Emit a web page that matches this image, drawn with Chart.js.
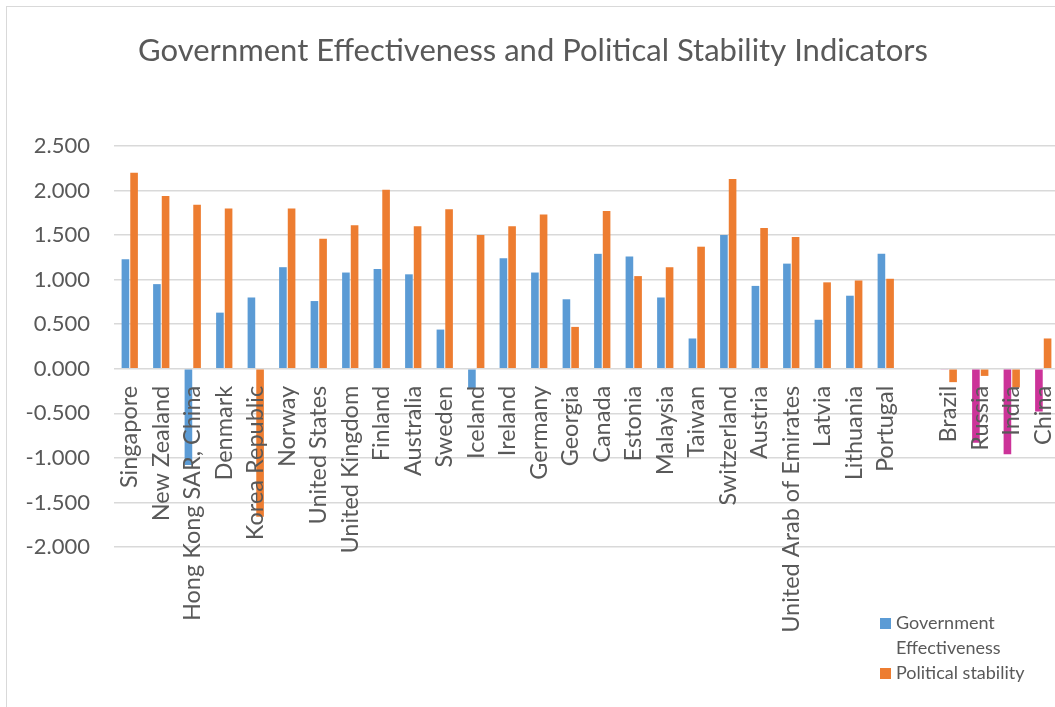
<!DOCTYPE html>
<html>
<head>
<meta charset="utf-8">
<script src="https://cdn.jsdelivr.net/npm/chart.js@4.4.1/dist/chart.umd.min.js"></script>
<style>
  html, body { margin: 0; padding: 0; background: #fff; overflow: hidden; }
  #frame { position: absolute; left: 6px; top: 6px; width: 1060px; height: 720px;
           border-left: 1px solid #d9d9d9; border-top: 1px solid #d9d9d9; }
  #legend { position: absolute; left: 880px; top: 610px; font-family: Lato, sans-serif;
            font-size: 18px; color: #595959; line-height: 25px; }
  .item { position: relative; padding-left: 16px; }
  .box { position: absolute; left: 0; top: 8px; width: 11px; height: 11px; }
</style>
</head>
<body>
<div id="frame"><canvas id="chart" width="1060" height="720"></canvas></div>
<div id="legend">
  <div class="item"><span class="box" style="background:#5B9BD5"></span>Government<br>Effectiveness</div>
  <div class="item"><span class="box" style="background:#ED7D31"></span>Political stability</div>
</div>
<script>
// categories (empty slot separates the BRIC group)
const categories = ['Singapore', 'New Zealand', 'Hong Kong SAR, China', 'Denmark', 'Korea Republic',
  'Norway', 'United States', 'United Kingdom', 'Finland', 'Australia', 'Sweden', 'Iceland',
  'Ireland', 'Germany', 'Georgia', 'Canada', 'Estonia', 'Malaysia', 'Taiwan', 'Switzerland',
  'Austria', 'United Arab of Emirates', 'Latvia', 'Lithuania', 'Portugal', '',
  'Brazil', 'Russia', 'India', 'China'];

const govEffectiveness = [1.23, 0.95, -1.08, 0.63, 0.80, 1.14, 0.76, 1.08, 1.12, 1.06, 0.44, -0.22,
  1.24, 1.08, 0.78, 1.29, 1.26, 0.80, 0.34, 1.50, 0.93, 1.18, 0.55, 0.82, 1.29, null,
  -0.01, -0.83, -0.96, -0.48];

const politicalStability = [2.20, 1.94, 1.84, 1.80, -1.66, 1.80, 1.46, 1.61, 2.01, 1.60, 1.79, 1.50,
  1.60, 1.73, 0.47, 1.77, 1.04, 1.14, 1.37, 2.13, 1.58, 1.48, 0.97, 0.99, 1.01, null,
  -0.15, -0.08, -0.21, 0.34];

const bricGroup = ['Brazil', 'Russia', 'India', 'China'];

// bar colours: BRIC government bars are shown in magenta
const govColors = categories.map(c => bricGroup.includes(c) ? '#CC3399' : '#5B9BD5');

// draw the category names starting just below the zero line
const categoryLabels = {
  id: 'categoryLabels',
  afterDatasetsDraw(chart) {
    const { ctx, scales: { x, y } } = chart;
    const y0 = y.getPixelForValue(0) + 17;
    ctx.save();
    ctx.font = '23.5px Lato, sans-serif';
    ctx.fillStyle = '#595959';
    ctx.textAlign = 'right';
    ctx.textBaseline = 'middle';
    categories.forEach((c, i) => {
      if (!c) return;
      ctx.save();
      ctx.translate(x.getPixelForValue(i), y0);
      ctx.rotate(-Math.PI / 2);
      ctx.fillText(c, 0, 0);
      ctx.restore();
    });
    ctx.restore();
  }
};

new Chart(document.getElementById('chart'), {
  type: 'bar',
  data: {
    labels: categories,
    datasets: [{
      label: 'Government Effectiveness',
      data: govEffectiveness,
      backgroundColor: govColors,
      categoryPercentage: 0.55,
      barPercentage: 0.88
    }, {
      label: 'Political stability',
      data: politicalStability,
      backgroundColor: '#ED7D31',
      categoryPercentage: 0.55,
      barPercentage: 0.88
    }]
  },
  options: {
    responsive: false,
    animation: false,
    devicePixelRatio: 1,
    layout: { padding: { top: 0, right: 8, bottom: 180, left: 0 } },
    plugins: {
      legend: { display: false },
      tooltip: { enabled: false },
      title: {
        display: true,
        text: 'Government Effectiveness and Political Stability Indicators',
        color: '#595959',
        font: { family: 'Lato', size: 31, weight: 'normal' },
        padding: { top: 25, bottom: 76.8 }
      }
    },
    scales: {
      x: { display: false },
      y: {
        min: -2,
        max: 2.5,
        afterFit: (scale) => { scale.width = 107; },
        ticks: {
          stepSize: 0.5,
          padding: 24,
          color: '#595959',
          font: { family: 'Lato', size: 22 },
          callback: v => v.toFixed(3)
        },
        grid: { color: '#d9d9d9', lineWidth: 1.5, drawTicks: false },
        border: { display: false }
      }
    }
  },
  plugins: [categoryLabels]
});
</script>
</body>
</html>
